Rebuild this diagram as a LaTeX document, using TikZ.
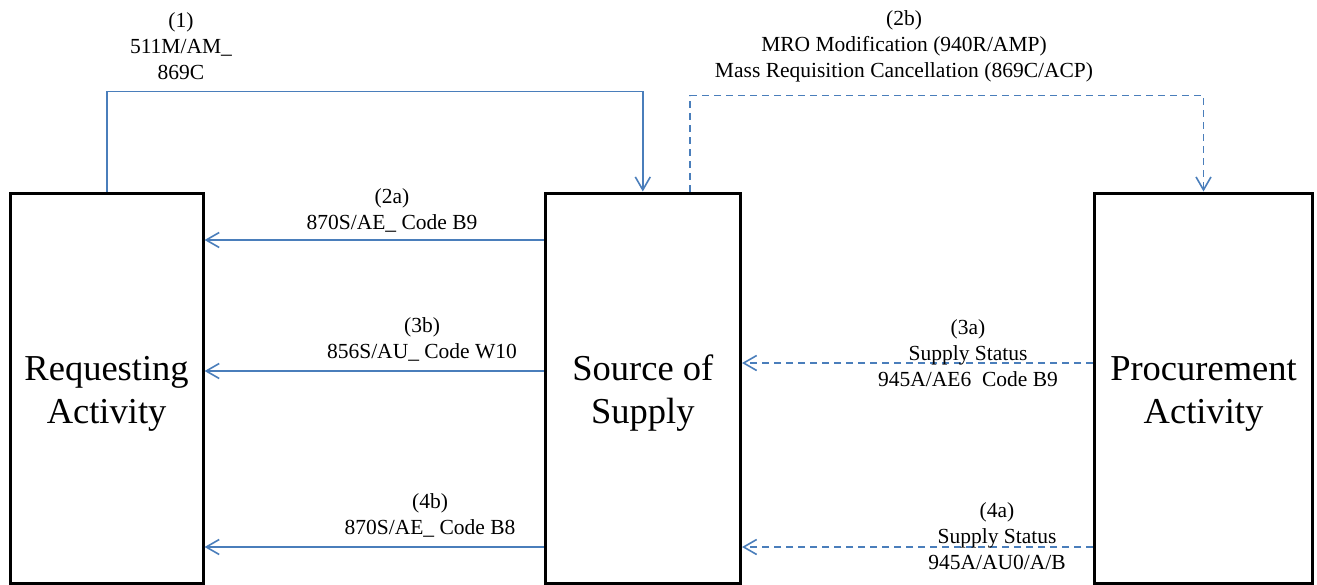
\documentclass[tikz,border=0pt]{standalone}
\usepackage{fontspec}
\setmainfont{Liberation Serif}
\usetikzlibrary{arrows.meta}

\definecolor{flowblue}{RGB}{74,126,187}

\tikzset{
  actbox/.style={draw=black, line width=3pt, minimum height=390pt, align=center,
    font=\fontsize{36.5}{43}\selectfont, inner sep=0pt},
  flow/.style={draw=flowblue, line width=1.8pt,
    -{Straight Barb[length=13pt, width=15pt, line width=1.6pt]}},
  flowdash/.style={flow, dash pattern=on 7pt off 5pt},
  msg/.style={align=center, font=\fontsize{21.5}{26}\selectfont, inner sep=0pt}
}

\begin{document}
\begin{tikzpicture}[x=1pt, y=-1pt]
    \useasboundingbox (0,0) rectangle (1317,584);

    % activities
    \node[actbox, minimum width=193pt] (req) at (106.6,388) {\rule{0pt}{36pt}Requesting\\Activity};
    \node[actbox, minimum width=195.5pt] (src) at (642.8,388) {\rule{0pt}{36pt}Source of\\Supply};
    \node[actbox, minimum width=218pt] (proc) at (1203.5,388) {\rule{0pt}{36pt}Procurement\\Activity};

    % requisitions
    \draw[flow] (req.north) -- ++(0,-100) -| (src.north);
    \draw[flowdash] ([xshift=47.5pt]src.north) -- ++(0,-96) -| (proc.north);

    % status back to requester
    \draw[flow] (src.west |- 0,240) -- (req.east |- 0,240);
    \draw[flow] (src.west |- 0,371) -- (req.east |- 0,371);
    \draw[flow] (src.west |- 0,547) -- (req.east |- 0,547);

    % status from procurement
    \draw[flowdash] (proc.west |- 0,363) -- (src.east |- 0,363);
    \draw[flowdash] (proc.west |- 0,547) -- (src.east |- 0,547);

    \node[msg] (m1) at (181,46.5) {(1)\\511M/AM\_\\869C};
    \node[msg] (m2b) at (904,46) {(2b)\\MRO Modification (940R/AMP)\\Mass Requisition Cancellation (869C/ACP)};
    \node[msg] (m2a) at (392,210) {(2a)\\870S/AE\_ Code B9};
    \node[msg] (m3b) at (422,339.5) {(3b)\\856S/AU\_ Code W10};
    \node[msg] (m4b) at (430,515) {(4b)\\870S/AE\_ Code B8};
    \node[msg] (m3a) at (968,353) {(3a)\\Supply Status\\945A/AE6\ \ Code B9};
    \node[msg] (m4a) at (997,536) {(4a)\\Supply Status\\945A/AU0/A/B};
\end{tikzpicture}
\end{document}
